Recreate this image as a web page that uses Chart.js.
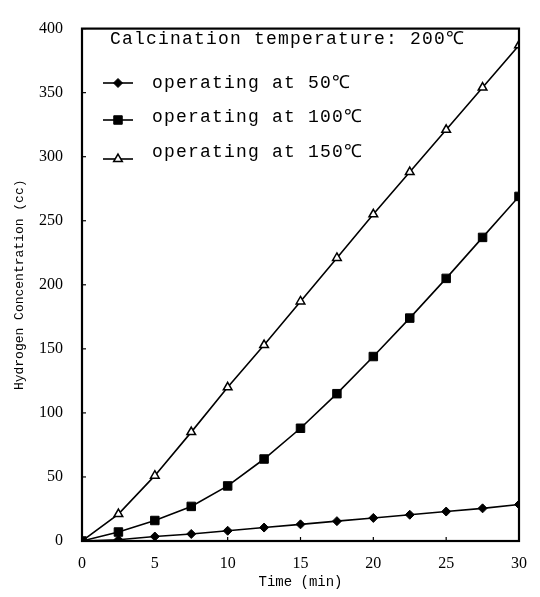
<!DOCTYPE html>
<html>
<head>
<meta charset="utf-8">
<script src="https://cdn.jsdelivr.net/npm/chart.js@4/dist/chart.umd.min.js"></script>
<style>
  html, body { margin: 0; padding: 0; background: #fff; }
  #wrap { width: 540px; height: 597px; position: relative; }
</style>
</head>
<body>
<div id="wrap"><canvas id="c" width="540" height="597"></canvas></div>
<script>
// ---- data ----
const times = [0, 2.5, 5, 7.5, 10, 12.5, 15, 17.5, 20, 22.5, 25, 27.5, 30];
const op50  = [0, 1, 3.5, 5.5, 8, 10.5, 13, 15.5, 18, 20.5, 23, 25.5, 28.5];
const op100 = [0, 7, 16, 27, 43, 64, 88, 115, 144, 174, 205, 237, 269];
const op150 = [0, 21, 51, 85, 120, 153, 187, 221, 255, 288, 321, 354, 387];
const seriesLabels = ['operating at 50\u2103', 'operating at 100\u2103', 'operating at 150\u2103'];
const legendTitle = 'Calcination temperature: 200\u2103';
const xTitle = 'Time (min)';
const yTitle = 'Hydrogen Concentration (cc)';
const xTicks = [0, 5, 10, 15, 20, 25, 30];
const yTicks = [0, 50, 100, 150, 200, 250, 300, 350, 400];

const toXY = arr => arr.map((v, i) => ({ x: times[i], y: v }));

const styles = [
  { pointStyle: 'rectRot', radius: 4.5, bg: '#000', bw: 1 },
  { pointStyle: 'rect', radius: 6, bg: '#000', bw: 1 },
  { pointStyle: 'triangle', radius: 5, bg: '#fff', bw: 1.5 }
];

const datasets = [op50, op100, op150].map((arr, i) => ({
  label: seriesLabels[i],
  data: toXY(arr),
  borderColor: '#000',
  borderWidth: 1.6,
  pointStyle: styles[i].pointStyle,
  pointRadius: styles[i].radius,
  pointBackgroundColor: styles[i].bg,
  pointBorderColor: '#000',
  pointBorderWidth: styles[i].bw,
  tension: 0,
  fill: false
}));

const framePlugin = {
  id: 'frame',
  afterDatasetsDraw(chart) {
    const { ctx, chartArea: a, scales } = chart;
    ctx.save();
    ctx.strokeStyle = '#000';
    ctx.lineWidth = 2.2;
    ctx.strokeRect(a.left, a.top, a.right - a.left, a.bottom - a.top);
    // inward tick marks
    ctx.lineWidth = 1.2;
    yTicks.forEach(v => {
      const y = scales.y.getPixelForValue(v);
      ctx.beginPath(); ctx.moveTo(a.left, y); ctx.lineTo(a.left + 4, y); ctx.stroke();
    });
    xTicks.forEach(v => {
      const x = scales.x.getPixelForValue(v);
      ctx.beginPath(); ctx.moveTo(x, a.bottom); ctx.lineTo(x, a.bottom - 4); ctx.stroke();
    });
    ctx.restore();
  }
};

const legendPlugin = {
  id: 'insideLegend',
  afterDraw(chart) {
    const { ctx } = chart;
    ctx.save();
    ctx.fillStyle = '#000';
    ctx.font = '18px "Liberation Mono", monospace';
    if ('letterSpacing' in ctx) ctx.letterSpacing = '1.2px';
    ctx.textBaseline = 'middle';
    ctx.textAlign = 'left';
    ctx.fillText(legendTitle, 110, 39);
    const rows = [
      { my: 83, ty: 83 },
      { my: 120, ty: 117 },
      { my: 159, ty: 152 }
    ];
    chart.data.datasets.forEach((ds, i) => {
      const r = rows[i];
      ctx.strokeStyle = '#000';
      ctx.lineWidth = 1.6;
      ctx.beginPath(); ctx.moveTo(103, r.my); ctx.lineTo(133, r.my); ctx.stroke();
      ctx.fillStyle = ds.pointBackgroundColor;
      ctx.lineWidth = ds.pointBorderWidth;
      Chart.helpers.drawPoint(ctx, { pointStyle: ds.pointStyle, radius: ds.pointRadius, rotation: 0, borderWidth: ds.pointBorderWidth }, 118, r.my);
      ctx.fillStyle = '#000';
      ctx.fillText(ds.label, 152, r.ty);
    });
    ctx.restore();
  }
};

new Chart(document.getElementById('c'), {
  type: 'line',
  data: { datasets },
  options: {
    responsive: false,
    animation: false,
    devicePixelRatio: 1,
    layout: { padding: { top: 15, right: 20, left: 0, bottom: 0 } },
    plugins: { legend: { display: false }, tooltip: { enabled: false } },
    scales: {
      x: {
        type: 'linear', min: 0, max: 30,
        afterFit: s => { s.height = 56; },
        afterBuildTicks: s => { s.ticks = xTicks.map(v => ({ value: v })); },
        grid: { display: false, drawTicks: false },
        border: { display: false },
        ticks: { color: '#000', padding: 13, font: { family: '"Liberation Serif", serif', size: 16 } },
        title: { display: true, text: xTitle, color: '#000', padding: { top: 0, bottom: 6 },
                 font: { family: '"Liberation Mono", monospace', size: 14 } }
      },
      y: {
        type: 'linear', min: 0, max: 400,
        afterFit: s => { s.width = 82; },
        afterBuildTicks: s => { s.ticks = yTicks.map(v => ({ value: v })); },
        grid: { display: false, drawTicks: false },
        border: { display: false },
        ticks: { color: '#000', padding: 19, font: { family: '"Liberation Serif", serif', size: 16 } },
        title: { display: true, text: yTitle, color: '#000', padding: { top: 12, bottom: 0 },
                 font: { family: '"Liberation Mono", monospace', size: 13 } }
      }
    }
  },
  plugins: [framePlugin, legendPlugin]
});
</script>
</body>
</html>
